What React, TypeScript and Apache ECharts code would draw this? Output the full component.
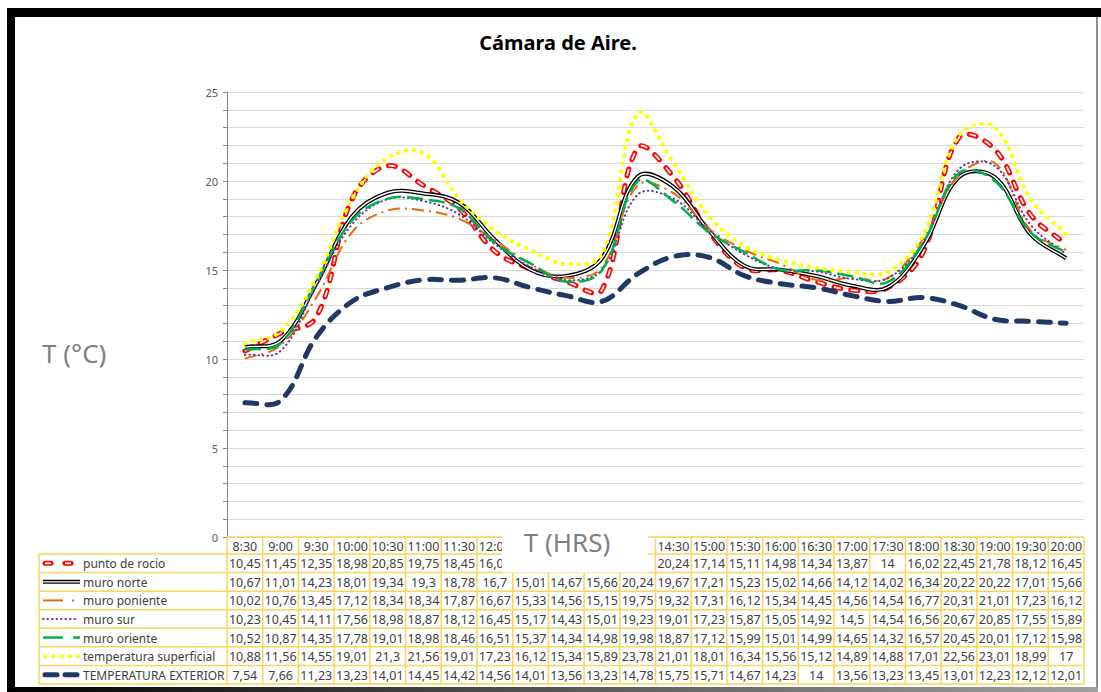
import React, { useEffect, useRef } from 'react';
import * as echarts from 'echarts';

const categories = ['8:30', '9:00', '9:30', '10:00', '10:30', '11:00', '11:30', '12:00', '12:30', '13:00', '13:30', '14:00', '14:30', '15:00', '15:30', '16:00', '16:30', '17:00', '17:30', '18:00', '18:30', '19:00', '19:30', '20:00'];

const puntoRocio = [10.45, 11.45, 12.35, 18.98, 20.85, 19.75, 18.45, 16.05, 15.05, 14.35, 13.88, 21.85, 20.24, 17.14, 15.11, 14.98, 14.34, 13.87, 14, 16.02, 22.45, 21.78, 18.12, 16.45];
const muroNorte = [10.67, 11.01, 14.23, 18.01, 19.34, 19.3, 18.78, 16.7, 15.01, 14.67, 15.66, 20.24, 19.67, 17.21, 15.23, 15.02, 14.66, 14.12, 14.02, 16.34, 20.22, 20.22, 17.01, 15.66];
const muroPoniente = [10.02, 10.76, 13.45, 17.12, 18.34, 18.34, 17.87, 16.67, 15.33, 14.56, 15.15, 19.75, 19.32, 17.31, 16.12, 15.34, 14.45, 14.56, 14.54, 16.77, 20.31, 21.01, 17.23, 16.12];
const muroSur = [10.23, 10.45, 14.11, 17.56, 18.98, 18.87, 18.12, 16.45, 15.17, 14.43, 15.01, 19.23, 19.01, 17.23, 15.87, 15.05, 14.92, 14.5, 14.54, 16.56, 20.67, 20.85, 17.55, 15.89];
const muroOriente = [10.52, 10.87, 14.35, 17.78, 19.01, 18.98, 18.46, 16.51, 15.37, 14.34, 14.98, 19.98, 18.87, 17.12, 15.99, 15.01, 14.99, 14.65, 14.32, 16.57, 20.45, 20.01, 17.12, 15.98];
const tempSuperficial = [10.88, 11.56, 14.55, 19.01, 21.3, 21.56, 19.01, 17.23, 16.12, 15.34, 15.89, 23.78, 21.01, 18.01, 16.34, 15.56, 15.12, 14.89, 14.88, 17.01, 22.56, 23.01, 18.99, 17];
const tempExterior = [7.54, 7.66, 11.23, 13.23, 14.01, 14.45, 14.42, 14.56, 14.01, 13.56, 13.23, 14.78, 15.75, 15.71, 14.67, 14.23, 14, 13.56, 13.23, 13.45, 13.01, 12.23, 12.12, 12.01];

const seriesNames = ['punto de rocio', 'muro norte', 'muro poniente', 'muro sur', 'muro oriente', 'temperatura superficial', 'TEMPERATURA EXTERIOR'];
const seriesData = [puntoRocio, muroNorte, muroPoniente, muroSur, muroOriente, tempSuperficial, tempExterior];

const yTicks = [0, 5, 10, 15, 20, 25];

const titleText = 'Cámara de Aire.';
const yAxisTitle = 'T (°C)';
const xAxisTitle = 'T (HRS)';

const FONT = '"Noto Sans", "DejaVu Sans", sans-serif';
const GOLD = '#fdd35a';
const TXT = '#404040';

const fmt = (v: number) => String(v).replace('.', ',');

// Excel-like smoothing: cubic Bezier with tangents weighted by segment lengths (pixel space)
const smoothPath = (pts: number[][]) => {
  const T = 0.38;
  const dist = (a: number[], b: number[]) => Math.hypot(b[0] - a[0], b[1] - a[1]);
  let d = `M${pts[0][0]},${pts[0][1]}`;
  for (let i = 0; i < pts.length - 1; i++) {
    const p0 = pts[i - 1] || pts[i];
    const p1 = pts[i];
    const p2 = pts[i + 1];
    const p3 = pts[i + 2] || p2;
    const d01 = dist(p0, p1);
    const d12 = dist(p1, p2);
    const d23 = dist(p2, p3);
    const r1 = d12 / (d01 + d12 || 1);
    const r2 = d12 / (d12 + d23 || 1);
    const c1x = p1[0] + (p2[0] - p0[0]) * r1 * T;
    const c1y = p1[1] + (p2[1] - p0[1]) * r1 * T;
    const c2x = p2[0] - (p3[0] - p1[0]) * r2 * T;
    const c2y = p2[1] - (p3[1] - p1[1]) * r2 * T;
    d += ` C${c1x},${c1y} ${c2x},${c2y} ${p2[0]},${p2[1]}`;
  }
  return d;
};

export default function App() {
  const ref = useRef<HTMLDivElement>(null);

  useEffect(() => {
    const chart = echarts.init(ref.current!, null, { renderer: 'svg' });

    const mk = (name: string, data: number[], st: { color: string; width: number; dash?: number[]; cap?: string }, z: number) => ({
      type: 'custom',
      name,
      z,
      silent: true,
      data: data.map((v, i) => [i, v]),
      encode: { x: 0, y: 1 },
      renderItem: (params: any, api: any) => {
        if (params.dataIndex !== 0) return null;
        const pts = data.map((v, i) => api.coord([i, v]));
        return {
          type: 'path',
          shape: { pathData: smoothPath(pts) },
          style: {
            fill: 'none',
            stroke: st.color,
            lineWidth: st.width,
            lineDash: st.dash || null,
            lineCap: st.cap || 'butt',
            lineJoin: 'round',
          },
        };
      },
    });

    chart.setOption({
      animation: false,
      backgroundColor: '#ffffff',
      grid: { left: 227, right: 17, top: 92, bottom: 155 },
      xAxis: {
        type: 'category',
        data: categories,
        boundaryGap: true,
        axisLine: { show: false },
        axisTick: { show: false },
        axisLabel: { show: false },
        splitLine: { show: false },
      },
      yAxis: {
        type: 'value',
        min: 0,
        max: 25,
        interval: 1,
        axisLine: { show: true, lineStyle: { color: '#868686', width: 1 } },
        axisTick: { show: true, length: 4, lineStyle: { color: '#868686' } },
        axisLabel: {
          color: '#595959',
          fontSize: 11,
          fontFamily: FONT,
          margin: 9,
          formatter: (v: number) => (yTicks.includes(v) ? String(v) : ''),
        },
        splitLine: { show: true, lineStyle: { color: '#d9d9d9', width: 1 } },
      },
      series: [
        mk(seriesNames[0], puntoRocio, { color: '#ff0000', width: 5, dash: [7, 10], cap: 'round' }, 2),
        mk(seriesNames[0] + ' ', puntoRocio, { color: '#ffffff', width: 1.8, dash: [7, 10], cap: 'butt' }, 2),
        mk(seriesNames[1], muroNorte, { color: '#000000', width: 4 }, 3),
        mk(seriesNames[1] + ' ', muroNorte, { color: '#ffffff', width: 1.4 }, 3),
        mk(seriesNames[2], muroPoniente, { color: '#e46c0a', width: 2, dash: [12, 5, 2, 5] }, 4),
        mk(seriesNames[3], muroSur, { color: '#7030a0', width: 2, dash: [0.5, 4], cap: 'round' }, 4),
        mk(seriesNames[4], muroOriente, { color: '#00b050', width: 2.5, dash: [16, 6] }, 4),
        mk(seriesNames[5], tempSuperficial, { color: '#ffff00', width: 4, dash: [0.5, 7.5], cap: 'round' }, 4),
        mk(seriesNames[6], tempExterior, { color: '#1f3864', width: 5, dash: [12, 10], cap: 'round' }, 5),
      ],
    });

    // ---- table built from the data arrays, positioned via the chart's own axes ----
    const els: any[] = [];
    const centers = categories.map((_, i) => chart.convertToPixel({ xAxisIndex: 0 }, i) as number);
    const colW = centers.length > 1 ? centers[1] - centers[0] : 36;
    const xLeft = centers[0] - colW / 2;
    const xRight = centers[centers.length - 1] + colW / 2;
    const yHeadTop = chart.convertToPixel({ yAxisIndex: 0 }, 0) as number;
    const headH = 17;
    const rowH = 18.57;
    const yRowsTop = yHeadTop + headH;
    const yBottom = yRowsTop + rowH * seriesNames.length;
    const legLeft = 39;

    const boxX0 = 502;
    const boxX1 = 648;
    const hidden = (x: number) => x > boxX0 + 8 && x < boxX1 - 4;

    const line = (x1: number, y1: number, x2: number, y2: number, style: any, z = 10) =>
      els.push({ type: 'line', z, silent: true, shape: { x1, y1, x2, y2 }, style });
    const text = (t: string, x: number, y: number, style: any, z = 11) =>
      els.push({ type: 'text', z, silent: true, x, y, style: { text: t, fontFamily: FONT, ...style } });

    const gold = { stroke: GOLD, lineWidth: 1.5 };
    line(xLeft, yHeadTop, xRight, yHeadTop, gold);
    for (let r = 0; r <= seriesNames.length; r++) {
      const y = yRowsTop + r * rowH;
      line(legLeft, y, xRight, y, gold);
    }
    line(legLeft, yRowsTop, legLeft, yBottom, gold);
    for (let c = 0; c <= categories.length; c++) {
      const x = xLeft + c * colW;
      line(x, yHeadTop, x, yBottom, gold);
    }
    categories.forEach((cat, i) => {
      if (hidden(centers[i])) return;
      text(cat, centers[i], yHeadTop + headH / 2 + 0.5, { fill: TXT, fontSize: 12.5, align: 'center', verticalAlign: 'middle' });
    });
    seriesData.forEach((arr, r) => {
      const yc = yRowsTop + r * rowH + rowH / 2 + 0.5;
      text(seriesNames[r], 83, yc, { fill: TXT, fontSize: 12, align: 'left', verticalAlign: 'middle' });
      arr.forEach((v, i) => {
        if (r === 0 && hidden(centers[i])) return;
        text(fmt(v), centers[i], yc, { fill: TXT, fontSize: 12.5, align: 'center', verticalAlign: 'middle' });
      });
    });

    // legend keys
    const ky = (r: number) => yRowsTop + r * rowH + rowH / 2;
    [[45, 51], [65, 71]].forEach(([a, b]) => {
      line(a, ky(0), b, ky(0), { stroke: '#ff0000', lineWidth: 5, lineCap: 'round' }, 12);
      line(a, ky(0), b, ky(0), { stroke: '#ffffff', lineWidth: 1.8, lineCap: 'butt' }, 13);
    });
    line(43, ky(1), 80, ky(1), { stroke: '#000000', lineWidth: 4 }, 12);
    line(43, ky(1), 80, ky(1), { stroke: '#ffffff', lineWidth: 1.4 }, 13);
    line(43, ky(2), 63, ky(2), { stroke: '#e46c0a', lineWidth: 2 }, 12);
    line(72, ky(2), 74, ky(2), { stroke: '#e46c0a', lineWidth: 2 }, 12);
    line(43, ky(3), 78, ky(3), { stroke: '#7030a0', lineWidth: 2, lineDash: [0.5, 4], lineCap: 'round' }, 12);
    line(43, ky(4), 63, ky(4), { stroke: '#00b050', lineWidth: 2.5 }, 12);
    line(73, ky(4), 80, ky(4), { stroke: '#00b050', lineWidth: 2.5 }, 12);
    line(45, ky(5), 79, ky(5), { stroke: '#ffff00', lineWidth: 4, lineDash: [0.5, 7.7], lineCap: 'round' }, 12);
    line(45, ky(6), 57, ky(6), { stroke: '#1f3864', lineWidth: 5, lineCap: 'round' }, 12);
    line(65, ky(6), 77, ky(6), { stroke: '#1f3864', lineWidth: 5, lineCap: 'round' }, 12);

    els.push({ type: 'rect', z: 20, silent: true, shape: { x: boxX0, y: 523, width: boxX1 - boxX0, height: yRowsTop + rowH - 523 }, style: { fill: '#ffffff' } });
    text(xAxisTitle, 567, 542, { fill: '#7f7f7f', fontSize: 26, align: 'center', verticalAlign: 'middle' }, 21);
    text(yAxisTitle, 42, 353, { fill: '#7f7f7f', fontSize: 26, align: 'left', verticalAlign: 'middle' }, 21);
    text(titleText, 558, 42, { fill: '#000000', fontSize: 20, fontWeight: 'bold', align: 'center', verticalAlign: 'middle' }, 21);

    // frame
    els.push({ type: 'rect', z: 30, silent: true, shape: { x: 7, y: 8, width: 1094, height: 9 }, style: { fill: '#000000' } });
    els.push({ type: 'rect', z: 30, silent: true, shape: { x: 7, y: 8, width: 8, height: 684 }, style: { fill: '#000000' } });
    els.push({ type: 'rect', z: 30, silent: true, shape: { x: 1096, y: 17, width: 2, height: 671 }, style: { fill: '#8c8c8c' } });
    els.push({
      type: 'rect', z: 30, silent: true, shape: { x: 7, y: 687, width: 1091, height: 5 },
      style: {
        fill: new echarts.graphic.LinearGradient(0, 0, 1, 0, [
          { offset: 0, color: '#000000' },
          { offset: 0.5, color: '#555555' },
          { offset: 1, color: '#a0a0a0' },
        ]),
      },
    });

    chart.setOption({ graphic: { elements: els } });

    return () => chart.dispose();
  }, []);

  return (
    <div
      ref={ref}
      style={{ position: 'absolute', left: 0, top: 0, width: 1101, height: 692, background: '#ffffff' }}
    />
  );
}
